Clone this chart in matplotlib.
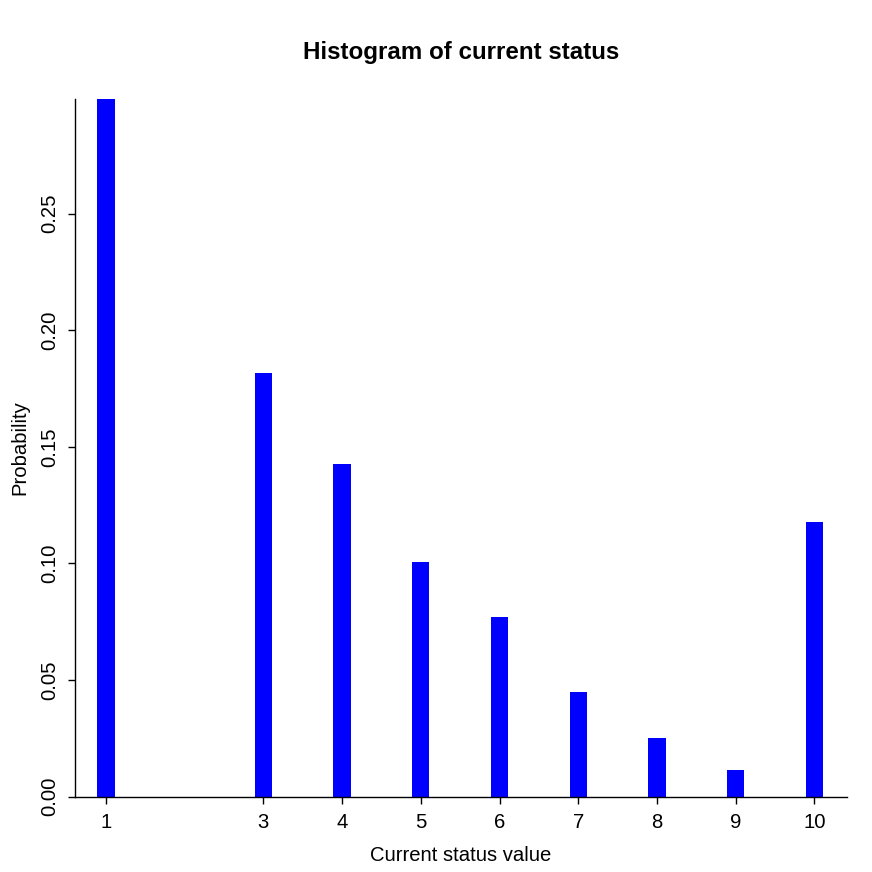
import matplotlib
matplotlib.use("Agg")
import matplotlib.pyplot as plt

# status values and their probabilities
status = [1, 3, 4, 5, 6, 7, 8, 9, 10]
prob = [0.2992, 0.1817, 0.1426, 0.1006, 0.0771, 0.0450, 0.0253, 0.0116, 0.1178]
yticks = [0.00, 0.05, 0.10, 0.15, 0.20, 0.25]

plt.rcParams["font.family"] = ["Liberation Sans", "DejaVu Sans"]

fig = plt.figure(figsize=(8.72, 8.72), dpi=100)
ax = fig.add_axes([0.086, 0.0865, 0.885, 0.8])

ax.bar(status, prob, width=0.22, color="#0000ff", edgecolor="none")

ax.set_xlim(0.607, 10.41)
ax.set_ylim(0, max(prob))
ax.set_xticks(status)
ax.set_xticklabels([str(s) for s in status])
ax.set_yticks(yticks)
ax.set_yticklabels([f"{t:.2f}" for t in yticks], rotation=90, va="center")

for side in ("top", "right"):
    ax.spines[side].set_visible(False)
for side in ("left", "bottom"):
    ax.spines[side].set_linewidth(1.0)

ax.tick_params(axis="both", direction="out", length=5, width=1.0, labelsize=14.6)
ax.tick_params(axis="x", pad=7)
ax.tick_params(axis="y", pad=6)

ax.set_xlabel("Current status value", fontsize=14.6, labelpad=10)
ax.set_ylabel("Probability", fontsize=14.6, labelpad=8)
# title is centred over the plot region, not the whole figure
fig.suptitle("Histogram of current status", fontsize=17.4, fontweight="bold",
             x=0.086 + 0.885 / 2, y=0.9535)

fig.savefig("out.png", dpi=100)
